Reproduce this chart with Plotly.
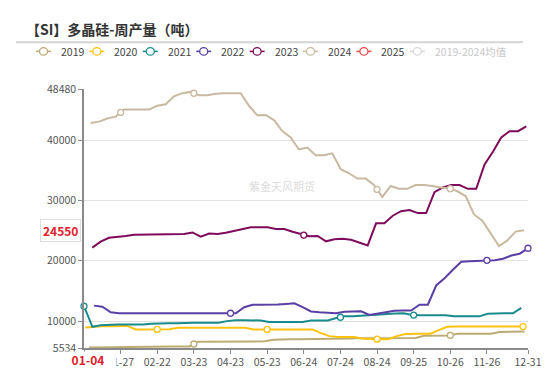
import numpy as np
import plotly.graph_objects as go

TITLE = "【SI】多晶硅-周产量（吨）"
WATERMARK = "紫金天风期货"
X_TICK_LABELS = ["01-04", "01-27", "02-22", "03-23", "04-23", "05-23", "06-24",
                 "07-24", "08-24", "09-25", "10-26", "11-26", "12-31"]
# category positions of the labelled dates (weeks after 01-04)
X_TICK_POS = [0, 4.29, 8.58, 12.87, 17.16, 21.45, 25.74, 30.03, 34.32, 38.61, 42.9, 47.19, 52.0]
Y_TICKS = [5534, 10000, 20000, 30000, 40000, 48480]
Y_POINTER_VALUE = 24550
X_POINTER_LABEL = "01-04"

SERIES_NAMES = ["2019", "2020", "2021", "2022", "2023", "2024", "2025", "2019-2024均值"]

# weekly output (tons); first/last observation expressed in weeks after 01-04
V2019 = [5630, 5650, 5700, 5750] + [5790] * 9 + [6574] * 4 + [6637] * 5 + [6900] + [7000] * 8 + \
        [7100] + [7150] * 7 + [7204, 7550] + [7600] * 3 + [7900] * 5 + [8200] + [8260] * 3
SPAN2019 = (0.59, 51.59)

V2020 = [8950, 9090, 9120, 9150, 9180, 9200] + [8620] * 4 + [8650] + [8890] * 9 + [8620] * 8 + \
        [8000, 7500] + [7361] * 3 + [7050] + [7000] * 3 + [7500, 7850] + [7896] * 3 + [8500, 9050] + [9094] * 9
SPAN2020 = (0.15, 51.42)

V2021 = [12460, 9050, 9300] + [9410] * 5 + [9550] + [9630] * 3 + [9720] * 5 + [9990] + [10150] * 3 + \
        [10100] + [9850] * 5 + [10100] * 3 + [10500, 10780, 10800, 10890, 10950, 11150, 11200, 11250, 11290, 11000] + \
        [10980] * 4 + [10780] * 4 + [11200] + [11290] * 3 + [12200]
SPAN2021 = (0.0, 51.22)

V2022 = [12560, 12380, 11450] + [11300] * 15 + [12300] + [12700] * 3 + \
        [12750, 12850, 12940, 12300, 11600, 11470, 11350, 11300, 11550, 11610, 11610, 11000, 11200, 11450,
         11720, 11750, 11750, 12700, 12720, 15900, 17100, 18500, 19850, 19920, 19970, 20070, 20080, 20340,
         20860, 21170, 22070]
SPAN2022 = (1.17, 52.0)

V2023 = [22170, 23170, 23800, 23900, 24100, 24320, 24320, 24400, 24430, 24430, 24430, 24430, 24690, 24010,
         24530, 24430, 24640, 24950, 25220, 25540, 25540, 25540, 25270, 25270, 24800, 24370, 24060, 24120,
         23220, 23580, 23650, 23490, 23020, 22540, 26210, 26210, 27470, 28210, 28420, 27900, 27900, 31360,
         32150, 32560, 32560, 31930, 31930, 35980, 38070, 40440, 41490, 41490, 42280]
SPAN2023 = (0.97, 51.80)

V2024 = [42860, 43070, 43590, 43900, 45070, 45070, 45070, 45070, 45700, 45950, 47270, 47790, 48000, 47430,
         47430, 47680, 47790, 47790, 47790, 45700, 44120, 44170, 43330, 41490, 40440, 38450, 38770, 37510,
         37510, 37820, 35190, 34510, 33620, 33620, 32560, 30580, 32400, 31930, 31930, 32560, 32560, 32400,
         32150, 32040, 31520, 30730, 27680, 26640, 24430, 22430, 23380, 24840, 25060]
SPAN2024 = (0.78, 51.53)

# label positions (tick index) where the chart shows a data symbol; "last" = final observation
MARK2019 = [3, 10]
MARK2020 = [2, 5, 8, "last"]
MARK2021 = [0, 7, 9]
MARK2022 = [4, 11, 12]
MARK2023 = [6]
MARK2024 = [1, 3, 8, 10]

COLORS = ["#bcab72", "#ffc20e", "#1a8b8c", "#5a3fa5", "#7e0b5b", "#c9b9a0", "#ee4b4b", "#d8d8d8"]

series = [
    ("2019", V2019, SPAN2019, MARK2019, COLORS[0]),
    ("2020", V2020, SPAN2020, MARK2020, COLORS[1]),
    ("2021", V2021, SPAN2021, MARK2021, COLORS[2]),
    ("2022", V2022, SPAN2022, MARK2022, COLORS[3]),
    ("2023", V2023, SPAN2023, MARK2023, COLORS[4]),
    ("2024", V2024, SPAN2024, MARK2024, COLORS[5]),
]

FONT = "Noto Sans CJK SC, Noto Sans, sans-serif"
L, R, T, B = 76, 30, 81, 20
W, H = 550, 373
PW, PH = W - L - R, H - T - B


def px(xp):
    return (xp - L) / PW


def py(yp):
    return (H - B - yp) / PH


fig = go.Figure()
for name, vals, span, marks, col in series:
    xs = np.linspace(span[0], span[1], len(vals))
    fig.add_trace(go.Scatter(x=xs, y=vals, mode="lines", name=name, showlegend=False,
                             line=dict(color=col, width=2), hoverinfo="skip"))
    mx = [xs[-1] if m == "last" else X_TICK_POS[m] for m in marks]
    my = np.interp(mx, xs, vals)
    fig.add_trace(go.Scatter(x=mx, y=my, mode="markers", showlegend=False, cliponaxis=False,
                             marker=dict(symbol="circle", size=6, color="white",
                                         line=dict(color=col, width=1.3)), hoverinfo="skip"))

shapes = []
annotations = []

# title and separator
annotations.append(dict(xref="paper", yref="paper", x=px(16), y=py(18), xanchor="left", yanchor="middle",
                        text="<b>" + TITLE + "</b>", showarrow=False,
                        font=dict(size=14, color="#333", family=FONT)))
shapes.append(dict(type="line", xref="paper", yref="paper", x0=px(8), x1=px(515), y0=py(32), y1=py(32),
                   line=dict(color="#d4d4d4", width=2)))

# legend (drawn by hand to match the compact spacing)
for i, name in enumerate(SERIES_NAMES):
    x0 = 28 + i * 53.4
    col = COLORS[i]
    yy = 41.5
    shapes.append(dict(type="line", xref="paper", yref="paper", x0=px(x0), x1=px(x0 + 15),
                       y0=py(yy), y1=py(yy), line=dict(color=col, width=1.5)))
    r = 4
    shapes.append(dict(type="circle", xref="paper", yref="paper",
                       x0=px(x0 + 7.5 - r), x1=px(x0 + 7.5 + r), y0=py(yy + r), y1=py(yy - r),
                       fillcolor="white", line=dict(color=col, width=1.3)))
    annotations.append(dict(xref="paper", yref="paper", x=px(x0 + 23), y=py(yy), xanchor="left",
                            yanchor="middle", text=name, showarrow=False,
                            font=dict(size=10.5, color="#c8c8c8" if i == 7 else "#444", family=FONT)))

# watermark
annotations.append(dict(xref="paper", yref="paper", x=px(274), y=py(183), text=WATERMARK, showarrow=False,
                        xanchor="center", yanchor="middle",
                        font=dict(size=11, color="#dcdcdc", family=FONT)))

# axis pointer labels
annotations.append(dict(xref="paper", yref="y", x=px(52), y=Y_POINTER_VALUE, yshift=3,
                        xanchor="center", yanchor="middle",
                        text="<b>%d</b>" % Y_POINTER_VALUE, showarrow=False,
                        font=dict(size=12, color="#e0202a", family=FONT),
                        bgcolor="white", bordercolor="#dddddd", borderwidth=1, borderpad=2))
annotations.append(dict(xref="paper", yref="paper", x=px(80), y=py(365), xanchor="center", yanchor="middle",
                        text="<b>" + X_POINTER_LABEL + "</b>", showarrow=False, width=54, height=13,
                        font=dict(size=12, color="#e0202a", family=FONT),
                        bgcolor="white", borderpad=1))

fig.update_layout(
    width=W, height=H,
    margin=dict(l=L, r=R, t=T, b=B, pad=0),
    paper_bgcolor="white", plot_bgcolor="white",
    font=dict(family=FONT, size=10, color="#555"),
    shapes=shapes, annotations=annotations,
    showlegend=False,
    xaxis=dict(range=[0, 52], tickmode="array", tickvals=X_TICK_POS, ticktext=X_TICK_LABELS,
               showgrid=False, zeroline=False, showline=True, linecolor="#8a8a8a", linewidth=1.5,
               ticks="outside", ticklen=4, tickcolor="#8a8a8a", tickfont=dict(size=10.5, color="#555")),
    yaxis=dict(range=[5534, 48480], tickmode="array", tickvals=Y_TICKS,
               ticktext=[str(v) for v in Y_TICKS],
               showgrid=True, gridcolor="#e2e2e2", gridwidth=1, zeroline=False,
               showline=True, linecolor="#8a8a8a", linewidth=1.5,
               ticks="outside", ticklen=4, tickcolor="#8a8a8a", tickfont=dict(size=10.5, color="#555")),
)

fig.write_html("out.html")
